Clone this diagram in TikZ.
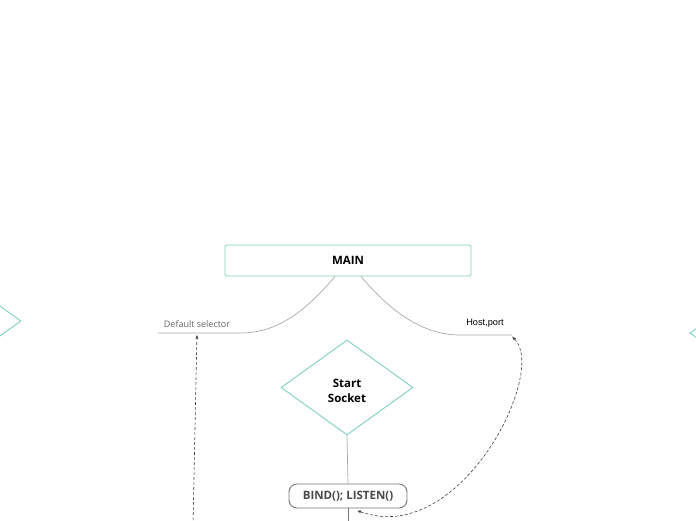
\documentclass[tikz,border=0pt]{standalone}
\usepackage{fontspec}
\setmainfont{Open Sans}
\newfontfamily\arialfont{Liberation Sans}
\usepackage{tikz}
\usetikzlibrary{arrows.meta,positioning,calc,shapes.geometric}
\definecolor{MindTeal}{HTML}{7ECFC1}
\definecolor{LineGray}{HTML}{A9A9A9}
\definecolor{BoxGray}{HTML}{767676}
\definecolor{TextGray}{HTML}{4A4A4A}

\begin{document}
\begin{tikzpicture}[x=1pt,y=-1pt, every node/.style={font=\fontsize{10}{12}\selectfont},
 topic/.style={draw=MindTeal,line width=0.9pt,rounded corners=1.5pt,minimum width=246pt,minimum height=31pt,font=\fontsize{11.5}{13}\selectfont\bfseries},
 choice/.style={diamond,draw=MindTeal,line width=0.9pt,minimum width=132pt,minimum height=95pt,inner sep=0pt,align=center,font=\fontsize{11.5}{15}\selectfont\bfseries},
 call/.style={draw=BoxGray,line width=0.9pt,rounded corners=8pt,minimum width=118pt,minimum height=24pt,text=TextGray,font=\fontsize{11.5}{13}\selectfont\bfseries},
 branch/.style={LineGray,line width=0.7pt},
 link/.style={{Latex[length=4pt,width=3pt]}-{Latex[length=4pt,width=3pt]},densely dashed,line width=0.6pt,black!75},
 uplink/.style={-{Latex[length=4pt,width=3pt]},densely dashed,line width=0.6pt,black!75}]
\useasboundingbox (0,0) rectangle (696,520);
\clip (0,0) rectangle (696,520);
% main topic
\node[topic] (main) at (348,260.5) {MAIN};
% branch labels
\node[anchor=south,inner sep=1pt,text=TextGray!85,font=\fontsize{9}{10}\selectfont] (dsel) at (197,329) {Default selector};
\node[anchor=south,inner sep=1pt,font=\arialfont\fontsize{9.2}{10}\selectfont] (hport) at (485,329) {Host,port};
\coordinate (dselA) at (240,333);
\coordinate (dselB) at (158,333);
\coordinate (hportA) at (460,335);
\coordinate (hportB) at (512,335);
\draw[branch] ($(main.south)+(-13,0)$) .. controls (300,318) and (272,333) .. (dselA) -- (dselB);
\draw[branch] ($(main.south)+(13,0)$) .. controls (396,318) and (428,335) .. (hportA) -- (hportB);
% socket flow
\node[choice] (start) at (347,387.5) {\rule{0pt}{15pt}Start\\Socket};
\node[call] (bind) at (348,496) {BIND(); LISTEN()};
\coordinate (down) at (348,525);
\draw[branch] (start.south) -- (bind.north);
\draw[branch,BoxGray] (bind.south) -- (down);
% side decisions, cut by the page
\node[choice] (lchoice) at (-45,321) {};
\node[choice] (rchoice) at (756,333) {};
% dashed links
\coordinate (uptail) at (193,525);
\draw[uplink] (uptail) -- ($(dselB)!0.475!(dselA)+(0,1.5)$);
\draw[link] ($(hportB)+(0,1.5)$) .. controls (548,372) and (460,548) .. ($(bind.south)+(9,2)$);
\end{tikzpicture}
\end{document}
